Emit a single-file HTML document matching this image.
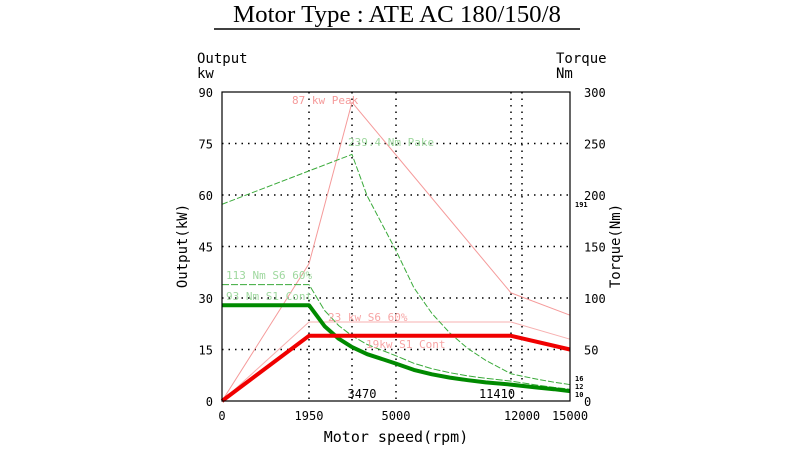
<!DOCTYPE html>
<html><head><meta charset="utf-8">
<style>
body{margin:0;background:#fff;width:800px;height:452px;overflow:hidden}
svg text{font-family:"DejaVu Sans Mono","Liberation Mono",monospace}
</style></head>
<body>
<svg id="chart" width="800" height="452" viewBox="0 0 800 452" xmlns="http://www.w3.org/2000/svg">
<text x="397" y="22" text-anchor="middle" font-size="24" style="font-family:'Liberation Serif',serif" textLength="328" lengthAdjust="spacingAndGlyphs">Motor Type : ATE AC 180/150/8</text>
<line x1="214" y1="29" x2="580" y2="29" stroke="#000" stroke-width="1.5"/>
<text x="197" y="63" font-size="14">Output</text>
<text x="197" y="78" font-size="14">kw</text>
<text x="556" y="63" font-size="14">Torque</text>
<text x="556" y="78" font-size="14">Nm</text>
<text transform="translate(187,246) rotate(-90)" text-anchor="middle" font-size="14">Output(kW)</text>
<text transform="translate(620,246) rotate(-90)" text-anchor="middle" font-size="14">Torque(Nm)</text>
<text x="396" y="442" text-anchor="middle" font-size="15">Motor speed(rpm)</text>
<g id="grid"></g><g id="series"></g><g id="labels"></g>
<rect x="222" y="92" width="348" height="309" fill="none" stroke="#000" stroke-width="1.2"/>
</svg>
<script>
const xTickRpm=[0,1950,5000,12000,15000];
const xGridRpm=[1950,3470,5000,11410,12000];
const leftTicks=[0,15,30,45,60,75,90];
const rightTicks=[0,50,100,150,200,250,300];
const peakPowerRpm=[0,1950,3470,11410,15000];
const peakPowerKw=[0,40,87,31.5,25];
const s6PowerRpm=[0,1950,11410,15000];
const s6PowerKw=[0,23,23,18];
const s1PowerRpm=[0,1950,11410,15000];
const s1PowerKw=[0,19,19,15];
const peakTorqueRpm=[0,3470,4000,5000,6000,7000,8000,9000,10000,11410,12000,13000,14000,15000];
const peakTorqueNm=[191,239.4,199,146,110,85,66,51,39.5,26.4,24.2,21,18.3,15.9];
const s6TorqueRpm=[0,1950,2500,3000,3470,4000,5000,6000,7000,8000,9000,10000,11410,12000,13000,14000,15000];
const s6TorqueNm=[113,113,87.9,73.2,63.3,54.9,43.9,36.6,31.4,27.5,24.4,22,19.3,17.7,15.3,13.2,11.5];
const s1TorqueRpm=[0,1950,2500,3000,3470,4000,5000,6000,7000,8000,9000,10000,11410,12000,13000,14000,15000];
const s1TorqueNm=[93,93,72.6,60.5,52.3,45.4,36.3,30.2,25.9,22.7,20.2,18.1,15.9,14.7,13,11.5,9.55];

const NS="http://www.w3.org/2000/svg";
const bpR=[0,1950,3470,5000,11410,12000,15000], bpX=[222,309,352,396,511,522,570];
function xs(r){for(let i=1;i<bpR.length;i++){if(r<=bpR[i]){const t=(r-bpR[i-1])/(bpR[i]-bpR[i-1]);return bpX[i-1]+t*(bpX[i]-bpX[i-1]);}}return 570;}
function yk(k){return 401-k/90*309;}
function yn(n){return 401-n/300*309;}
function mk(tag,attrs,parent){const e=document.createElementNS(NS,tag);for(const k in attrs)e.setAttribute(k,attrs[k]);document.getElementById(parent).appendChild(e);return e;}
function txt(s,x,y,attrs,parent){const e=mk('text',Object.assign({x:x,y:y},attrs),parent);e.textContent=s;return e;}

leftTicks.forEach((v,i)=>{
  if(v>0&&v<90){const l=mk('line',{x1:222,x2:570,y1:yk(v),y2:yk(v),stroke:'#000','stroke-dasharray':'1.5 5','stroke-width':1.5},'grid');
  
  }
  const t=txt(String(v),213,yk(v)+5,{'text-anchor':'end','font-size':12},'labels');
  
  
});
rightTicks.forEach(v=>{
  const t=txt(String(v),584,yn(v)+5,{'font-size':12},'labels');
  
  
});
xGridRpm.forEach(r=>{
  const l=mk('line',{x1:xs(r),x2:xs(r),y1:92,y2:401,stroke:'#000','stroke-dasharray':'1.5 5','stroke-width':1.5},'grid');
  
  
});
xTickRpm.forEach(r=>{
  const t=txt(String(r),xs(r),420,{'text-anchor':'middle','font-size':12},'labels');
  
  
});
[[3470,362],[11410,497]].forEach(p=>{
  const t=txt(String(p[0]),p[1],398,{'text-anchor':'middle','font-size':12},'labels');
  
  
});
function line(rpm,vals,yf,stroke,w,dash,name){
  const pts=rpm.map((r,i)=>xs(r).toFixed(1)+','+yf(vals[i]).toFixed(1)).join(' ');
  const a={points:pts,fill:'none',stroke:stroke,'stroke-width':w,'stroke-linejoin':'round'};
  if(dash)a['stroke-dasharray']=dash;
  const p=mk('polyline',a,'series');
  
  
}
line(peakPowerRpm,peakPowerKw,yk,'#f59a9a',1,null,'peak-power-line');
line(s6PowerRpm,s6PowerKw,yk,'#f7b0b0',1,null,'s6-power-line');
line(peakTorqueRpm,peakTorqueNm,yn,'#3aaa3a',1,'6 2','peak-torque-line');
line(s6TorqueRpm,s6TorqueNm,yn,'#3aaa3a',1,'7 2','s6-torque-line');
line(s1TorqueRpm,s1TorqueNm,yn,'#008a00',4,null,'s1-torque-line');
line(s1PowerRpm,s1PowerKw,yk,'#f00000',4,null,'s1-power-line');

const ann=[["87 kw Peak",292,104,'#f59a9a','peak-power-label'],["239.4 Nm Pake",348,146,'#9fd89f','peak-torque-label'],
["113 Nm S6 60%",226,279,'#9fd89f','s6-torque-label'],["93 Nm S1 Cont",226,300,'#9fd89f','s1-torque-label'],
["23 kw S6 60%",328,321,'#f7a5a5','s6-power-label'],["19kw S1 Cont",366,348,'#f7a5a5','s1-power-label']];
ann.forEach(a=>{const t=txt(a[0],a[1],a[2],{fill:a[3],'font-size':11},'labels');
  
  });
[["191",575,207],["16",575,381],["12",575,389],["10",575,397]].forEach(a=>{
  const t=txt(a[0],a[1],a[2],{'font-size':7,'font-weight':'bold'},'labels');
  
  });
</script>
</body></html>
